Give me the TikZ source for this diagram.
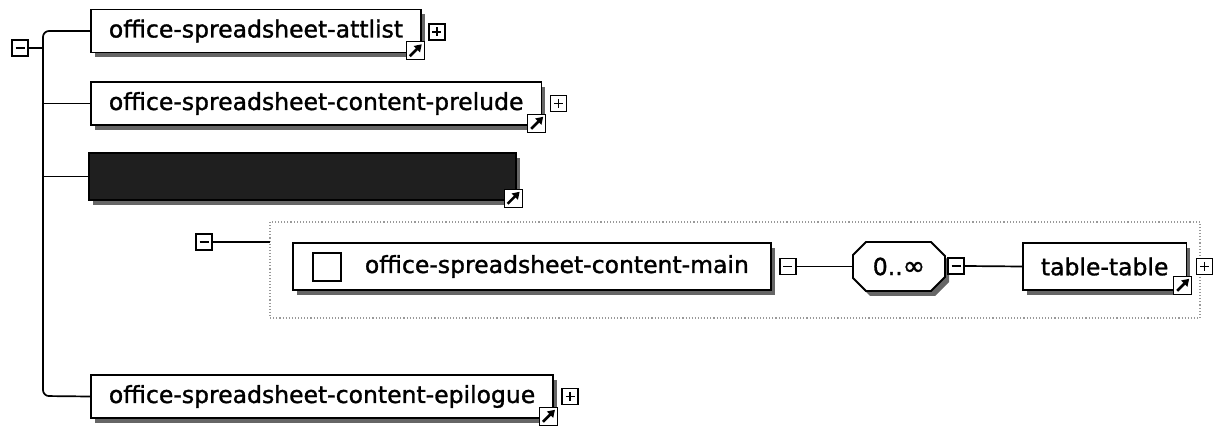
\documentclass[tikz,border=0pt]{standalone}
\usepackage{fontspec}
\setmainfont{DejaVu Sans}[AutoFakeBold=1.3]
\usetikzlibrary{arrows.meta,shadows,calc}

\begin{document}
\begin{tikzpicture}[x=1pt,y=-1pt,
  font=\fontsize{23.5}{28}\selectfont\bfseries,
  boxshadow/.style={drop shadow={shadow xshift=4pt, shadow yshift=-5pt, fill=black!60, opacity=1}},
  elem/.style={draw, line width=1.8pt, fill=white, inner xsep=18pt, inner ysep=0pt,
    minimum height=43pt, anchor=west, boxshadow},
  conn/.style={line width=1.7pt},
  pmbase/.style={draw, line width=1.5pt, fill=white, minimum size=16pt, inner sep=0pt},
  minusbox/.style={pmbase, path picture={
      \draw[line width=1.5pt] ([xshift=3.5pt]path picture bounding box.west) -- ([xshift=-3.5pt]path picture bounding box.east);}},
  plusbox/.style={pmbase, path picture={
      \draw[line width=1.5pt] ([xshift=3.5pt]path picture bounding box.west) -- ([xshift=-3.5pt]path picture bounding box.east);
      \draw[line width=1.5pt] ([yshift=-3.5pt]path picture bounding box.north) -- ([yshift=3.5pt]path picture bounding box.south);}},
  refmark/.style={draw, line width=1.3pt, fill=white, minimum size=18pt, inner sep=0pt, anchor=south east,
    path picture={\draw[line width=2.6pt, -{Triangle[length=7pt,width=8.5pt]}]
      ([shift={(3.5pt,3.5pt)}]path picture bounding box.south west) --
      ([shift={(-2.5pt,-2.5pt)}]path picture bounding box.north east);}},
  checkbox/.style={draw, line width=2pt, fill=white, minimum size=28pt, inner sep=0pt},
  groupframe/.style={draw=black!40, dotted, line width=1.1pt}
]
\useasboundingbox (0,0) rectangle (1230,435);

% root of the sequence and its trunk
\node[minusbox] (root) at (20,48) {};
\coordinate (trtop) at (43,31);
\coordinate (trbot) at (43,396);

% child elements
\node[elem] (att) at (90,31) {office-spreadsheet-attlist};
\node[elem] (pre) at (90,103.5) {office-spreadsheet-content-prelude};
\node[elem, fill=black!88, minimum width=427pt, minimum height=47pt] (dark) at (88,176.5) {};
\node[elem] (epi) at (90,396.5) {office-spreadsheet-content-epilogue};

% reference marks and expand buttons
\node[refmark] (attref) at ($(att.south east)+(3,7)$) {};
\node[plusbox] (attplus) at ($(att.east)+(15,1)$) {};
\node[refmark] (preref) at ($(pre.south east)+(4,7)$) {};
\node[plusbox] (preplus) at ($(pre.east)+(16,0)$) {};
\node[refmark] (darkref) at ($(dark.south east)+(6,7)$) {};
\node[refmark] (epiref) at ($(epi.south east)+(4,7)$) {};
\node[plusbox] (epiplus) at ($(epi.east)+(16,0)$) {};

% trunk connectors
\draw[conn] (root.east) -- (root.east -| trtop);
\draw[conn, rounded corners=6pt] (att.west) -- (trtop) -- (trbot) -- (epi.west);
\draw[conn] (pre.west) -- (pre.west -| trtop);
\draw[conn] (dark.west) -- (dark.west -| trtop);

% expanded content group
\coordinate (grpNW) at (270,222);
\coordinate (grpSE) at (1200,318);
\draw[groupframe] (grpNW) rectangle (grpSE);
\node[minusbox] (gminus) at (204,242) {};
\draw[conn] (gminus.east) -- (gminus.east -| grpNW);

\node[elem, minimum height=47pt, inner xsep=22pt] (main) at (292,266.5) {\hspace*{50pt}office-spreadsheet-content-main};
\node[checkbox] (mainchk) at (327,267) {};
\node[minusbox] (mainminus) at ($(main.east)+(16,0)$) {};

% occurrence octagon
\draw[line width=1.8pt, fill=white, boxshadow]
  (866,242) -- (931,242) -- (945,256) -- (945,277) -- (931,291) -- (866,291) -- (853,278) -- (853,255) -- cycle;
\node[inner sep=0pt, minimum width=92pt, minimum height=49pt] (occ) at (899,266.5) {0..{\fontsize{27}{28}\selectfont∞}};
\node[minusbox] (occminus) at (956,266) {};

\node[elem, minimum height=47pt] (tab) at (1022,266.5) {table-table};
\node[refmark] (tabref) at ($(tab.south east)+(5,4)$) {};
\node[plusbox] (tabplus) at ($(tab.east)+(17,0)$) {};

\draw[conn] (mainminus.east) -- (occ.west);
\draw[conn] (occminus.east) -- (tab.west);
\end{tikzpicture}
\end{document}
